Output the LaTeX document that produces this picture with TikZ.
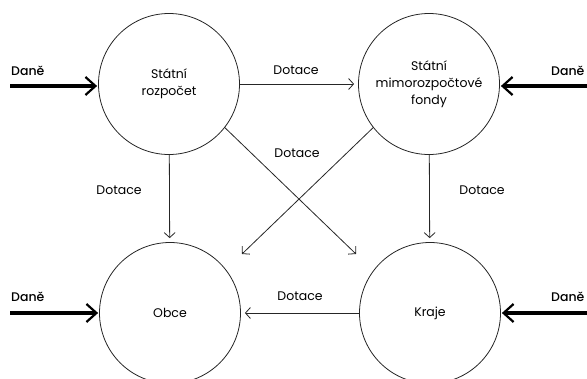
\documentclass[tikz,border=0pt]{standalone}
\usepackage{fontspec}
\setmainfont{Poppins}
\newfontfamily\taxfont{Poppins Medium}
\usetikzlibrary{
		positioning,
		arrows.meta
	}
\tikzset{
		>={Straight Barb[length=5pt,width=11pt]},
		fund/.style={circle, draw=black!85, line width=.8pt, minimum size=141pt, inner sep=0pt, align=center, font=\fontsize{12.5}{17}\selectfont},
		flow/.style={->, draw=black!85, line width=.8pt, shorten >=4pt},
		tax/.style={-{Straight Barb[length=10pt,width=18pt,line width=2.2pt]}, line width=3.2pt, shorten >=1pt},
		lbl/.style={inner sep=0pt, font=\fontsize{12.5}{15}\selectfont},
		taxlbl/.style={lbl, anchor=west, font=\taxfont\fontsize{12.5}{15}\selectfont}
	}

\begin{document}
\begin{tikzpicture}[x=1pt, y=-1pt] % one unit = one pixel of the page, y going down
		\useasboundingbox (0,0) rectangle (587,378);
		% the four funds
		\node[fund] (sr) at (169,84) {Státní\\rozpočet};
		\node[fund] (smf) at (429,84) {Státní\\mimorozpočtové\\fondy};
		\node[fund] (ob) at (170,313) {Obce};
		\node[fund] (kr) at (430,313) {Kraje};
		% free ends
		\coordinate (xo) at (242,254);
		\coordinate (xk) at (356,254);
		\foreach \n/\x/\y in {tl/10/86, tr/587/86, bl/10/313, br/587/313}{
			\coordinate (\n) at (\x,\y);
		}
		% Dotace
		\draw[flow] (sr) -- (smf);
		\draw[flow] (sr) -- (ob);
		\draw[flow] (smf) -- (kr);
		\draw[flow] (kr) -- (ob);
		\draw[flow, shorten >=0pt] (sr.-38) -- (xk);
		\draw[flow, shorten >=0pt] (smf.218) -- (xo);
		\node[lbl] (d1) at (296,70) {Dotace};
		\node[lbl] (d2) at (119,190) {Dotace};
		\node[lbl] (d3) at (297,153) {Dotace};
		\node[lbl] (d4) at (482,190) {Dotace};
		\node[lbl] (d5) at (300,296) {Dotace};
		% Daně
		\draw[tax] (tl) -- (tl -| sr.west);
		\draw[tax] (bl) -- (ob);
		\draw[tax] (tr) -- (tr -| smf.east);
		\draw[tax] (br) -- (kr);
		\node[taxlbl] (t1) at (11,71) {Daně};
		\node[taxlbl] (t2) at (11,297) {Daně};
		\node[taxlbl] (t3) at (551,71) {Daně};
		\node[taxlbl] (t4) at (551,297) {Daně};
	\end{tikzpicture}
\end{document}
